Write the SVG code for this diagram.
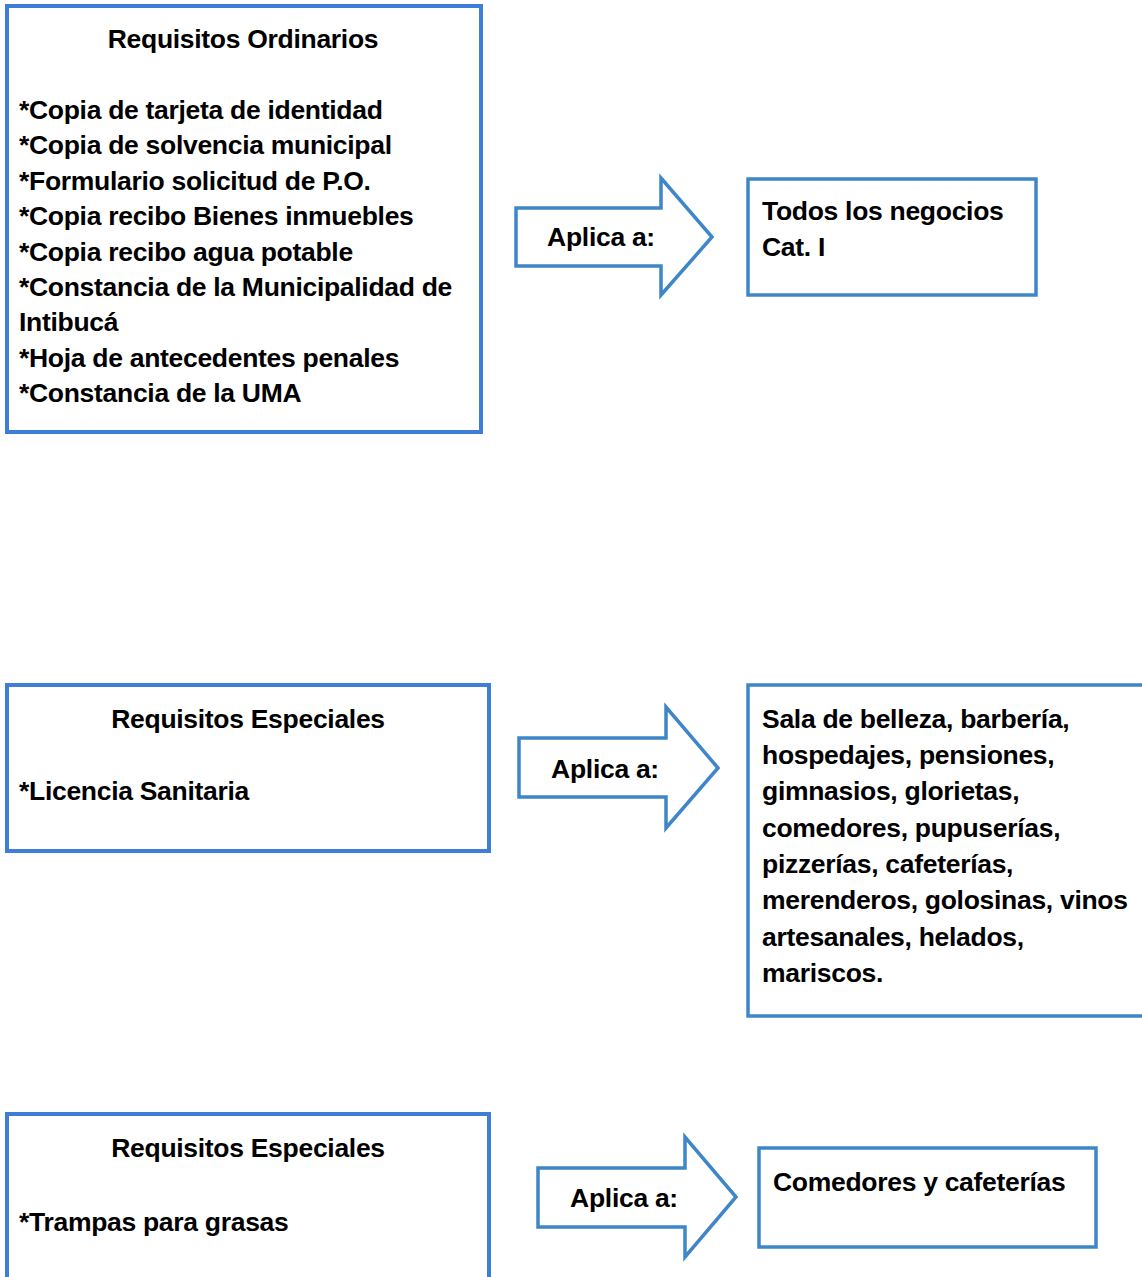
<svg xmlns="http://www.w3.org/2000/svg" width="1142" height="1277" viewBox="0 0 1142 1277">
<style>
.box{fill:#fff;stroke:#3f7ed8;stroke-width:4}
.rbox{fill:#fff;stroke:#3f86c8;stroke-width:3.5}
.arr{fill:#fff;stroke:#3f86c8;stroke-width:3.5;stroke-linejoin:miter}
text{font-family:"Liberation Sans",Arial,sans-serif;font-weight:bold;font-size:26.5px;letter-spacing:-0.3px;fill:#000}
.c{text-anchor:middle}
</style>
<rect width="1142" height="1277" fill="#fff"/>
<g id="connectors">
<path id="arrow1" class="arr" d="M516,208 H661 V178 L712,237 L661,295 V266 H516 Z"/>
<path id="arrow2" class="arr" d="M519,738 H666 V707 L718,768 L666,828 V797 H519 Z"/>
<path id="arrow3" class="arr" d="M538,1168 H685 V1137 L736,1197 L685,1257 V1227 H538 Z"/>
<text x="601" y="246" class="c">Aplica a:</text>
<text x="605" y="778" class="c">Aplica a:</text>
<text x="624" y="1207" class="c">Aplica a:</text>
</g>
<g id="ordinarios">
<rect class="box" x="7" y="6" width="474" height="426"/>
<text x="243" y="48" class="c">Requisitos Ordinarios</text>
<text x="19" y="119">*Copia de tarjeta de identidad</text>
<text x="19" y="154.4">*Copia de solvencia municipal</text>
<text x="19" y="189.8">*Formulario solicitud de P.O.</text>
<text x="19" y="225.2">*Copia recibo Bienes inmuebles</text>
<text x="19" y="260.6">*Copia recibo agua potable</text>
<text x="19" y="296">*Constancia de la Municipalidad de</text>
<text x="19" y="331.4">Intibucá</text>
<text x="19" y="366.8">*Hoja de antecedentes penales</text>
<text x="19" y="402.2">*Constancia de la UMA</text>
</g>
<g id="todos">
<rect class="rbox" x="748" y="179" width="288" height="116"/>
<text x="762" y="220">Todos los negocios</text>
<text x="762" y="256">Cat. I</text>
</g>
<g id="especiales1">
<rect class="box" x="7" y="685" width="482" height="166"/>
<text x="248" y="728" class="c">Requisitos Especiales</text>
<text x="19" y="800">*Licencia Sanitaria</text>
</g>
<g id="negocios2">
<rect class="rbox" x="748" y="685" width="420" height="331"/>
<text x="762" y="728">Sala de belleza, barbería,</text>
<text x="762" y="764">hospedajes, pensiones,</text>
<text x="762" y="800">gimnasios, glorietas,</text>
<text x="762" y="837">comedores, pupuserías,</text>
<text x="762" y="873">pizzerías, cafeterías,</text>
<text x="762" y="909">merenderos, golosinas, vinos</text>
<text x="762" y="946">artesanales, helados,</text>
<text x="762" y="982">mariscos.</text>
</g>
<g id="especiales2">
<rect class="box" x="7" y="1114" width="482" height="200"/>
<text x="248" y="1157" class="c">Requisitos Especiales</text>
<text x="19" y="1231">*Trampas para grasas</text>
</g>
<g id="comedores">
<rect class="rbox" x="759" y="1148" width="337" height="99"/>
<text x="773" y="1191">Comedores y cafeterías</text>
</g>
</svg>
